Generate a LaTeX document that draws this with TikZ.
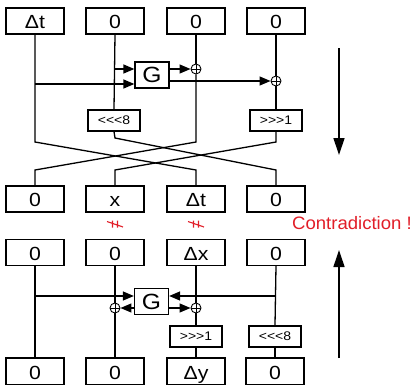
\documentclass[tikz,border=0pt]{standalone}
\usepackage{fontspec}
\setmainfont{Liberation Sans}
\newfontfamily\widefont[FakeStretch=1.12]{Liberation Sans}
\newfontfamily\redfont[FakeStretch=1.03]{Liberation Sans}
\usetikzlibrary{arrows.meta}
\definecolor{cred}{RGB}{225,30,40}
\begin{document}
\begin{tikzpicture}[x=1pt,y=-1pt, line width=1.3pt,
  box/.style={draw, minimum width=58pt, minimum height=26pt, inner sep=0pt,
    text height=17pt, text depth=2pt, font=\widefont\fontsize{19}{19}\selectfont},
  gbox/.style={draw, minimum width=34pt, minimum height=26pt, inner sep=0pt,
    font=\widefont\fontsize{22}{22}\selectfont},
  rotbox/.style={draw, minimum width=52pt, minimum height=21pt, inner sep=0pt,
    font=\widefont\fontsize{12.5}{12.5}\selectfont},
  xor/.style={circle, draw, minimum size=10pt, inner sep=0pt, line width=0.9pt,
    path picture={\draw[line width=0.9pt] (path picture bounding box.north) -- (path picture bounding box.south)
      (path picture bounding box.west) -- (path picture bounding box.east);}},
  arr/.style={-{Triangle[length=11pt,width=9pt]}},
  bigarr/.style={-{Triangle[length=17pt,width=11pt]}},
  redmark/.style={draw=cred, line width=1.1pt},
  lbl/.style={text=cred, font=\redfont\fontsize{18}{18}\selectfont, inner sep=0pt}
]
\useasboundingbox (0,0) rectangle (416,384);
\clip (0,0) rectangle (416,384);

% ---------- top half ----------
\node[box] (t1) at (35,21) {Δt};
\node[box] (t2) at (115,21) {0};
\node[box] (t3) at (196,21) {0};
\node[box] (t4) at (276,21) {0};

\node[gbox] (g1) at (152,75) {G};
\node[xor] (x1) at (196,69) {};
\node[xor] (x2) at (276,81) {};
\node[rotbox] (s1) at (114,120.5) {<<<8};
\node[rotbox] (r1) at (276,120.5) {>>>1};

\node[box] (b1) at (35,199) {0};
\node[box] (b2) at (115,199) {x};
\node[box] (b3) at (196,199) {Δt};
\node[box] (b4) at (276,199) {0};

\coordinate (j1) at (115,69);
\coordinate (j2) at (35,84);
\coordinate (p1) at (35,142);
\coordinate (q1) at (196,170);
\coordinate (p2) at (115,138);
\coordinate (q2) at (276,170);
\coordinate (p3) at (196,142);
\coordinate (q3) at (35,170);
\coordinate (p4) at (276,142);
\coordinate (q4) at (115,170);

\draw (t1.south) -- (p1) -- (q1) -- (b3.north);
\draw (t2.south) -- (s1.north);
\draw (s1.south) -- (p2) -- (q2) -- (b4.north);
\draw (t3.south) -- (x1.north);
\draw (x1.south) -- (p3) -- (q3) -- (b1.north);
\draw (t4.south) -- (x2.north);
\draw (x2.south) -- (r1.north);
\draw (r1.south) -- (p4) -- (q4) -- (b2.north);

\draw[arr] (j1) -- (j1 -| g1.west);
\draw[arr] (j2) -- (j2 -| g1.west);
\draw[arr] (g1.east |- x1) -- (x1.west);
\draw[arr] (g1.east |- x2) -- (x2.west);

% ---------- red marks ----------
\draw[redmark, shift={(115,224)}] (-2.5,-3.5) -- (-2.5,3.5) (2.5,-3.5) -- (2.5,3.5) (-8,-2.5) -- (8,3);
\draw[redmark, shift={(196,224)}] (-2.5,-3.5) -- (-2.5,3.5) (2.5,-3.5) -- (2.5,3.5) (-8,-2.5) -- (8,3);
\node[lbl] (contra) at (352,223) {Contradiction !};

% ---------- bottom half ----------
\node[box] (c1) at (35,252.5) {0};
\node[box] (c2) at (115,252.5) {0};
\node[box] (c3) at (196,252.5) {Δx};
\node[box] (c4) at (276,252.5) {0};

\node[gbox] (g2) at (151.5,301.5) {G};
\node[xor] (x3) at (115,308) {};
\node[xor] (x4) at (196,308) {};
\node[rotbox] (r2) at (196,336.5) {>>>1};
\node[rotbox] (s2) at (275,336.5) {<<<8};

\node[box, minimum height=27pt] (d1) at (35,371.5) {0};
\node[box, minimum height=27pt] (d2) at (115,371.5) {0};
\node[box, minimum height=27pt] (d3) at (196,371.5) {Δy};
\node[box, minimum height=27pt] (d4) at (275,371.5) {0};

\coordinate (k1) at (35,296);
\coordinate (k2) at (276,296);

\draw (c1.south) -- (d1.north);
\draw (c2.south) -- (x3.north);
\draw (x3.south) -- (d2.north);
\draw (c3.south) -- (x4.north);
\draw (x4.south) -- (r2.north);
\draw (r2.south) -- (d3.north);
\draw (c4.south) -- (s2.north);
\draw (s2.south) -- (d4.north);

\draw[arr] (k1) -- (k1 -| g2.west);
\draw[arr] (k2) -- (k2 -| g2.east);
\draw[arr] (g2.west |- x3) -- (x3.east);
\draw[arr] (g2.east |- x4) -- (x4.west);

% ---------- direction arrows ----------
\coordinate (a1) at (339,48);
\coordinate (a2) at (339,155);
\coordinate (a3) at (339,358);
\coordinate (a4) at (339,250);
\draw[bigarr] (a1) -- (a2);
\draw[bigarr] (a3) -- (a4);
\end{tikzpicture}
\end{document}
